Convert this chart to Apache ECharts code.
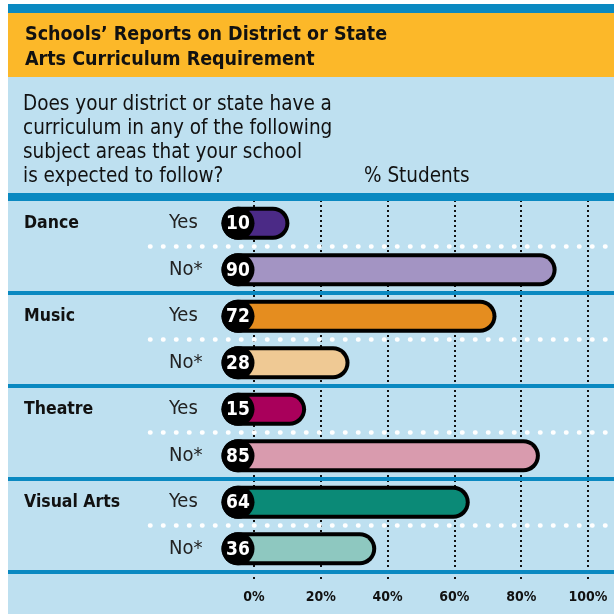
<!DOCTYPE html>
<html>
<head>
<meta charset="utf-8">
<script src="https://cdn.jsdelivr.net/npm/echarts@6/dist/echarts.min.js"></script>
<style>
  html, body { margin: 0; padding: 0; background: #fff; }
  #chart { width: 614px; height: 614px; }
</style>
</head>
<body>
<div id="chart"></div>
<script>
// rows top to bottom
const rowLabels = ['Yes', 'No*', 'Yes', 'No*', 'Yes', 'No*', 'Yes', 'No*']
const groupLabels = ['Dance', '', 'Music', '', 'Theatre', '', 'Visual Arts', '']
const percentStudents = [10, 90, 72, 28, 15, 85, 64, 36]
const barColors = ['#4b2a86', '#a394c3', '#e58d1f', '#efc994', '#a9005b', '#d99bae', '#0b8a77', '#8ec8c0']
const xTicks = [0, 20, 40, 60, 80, 100]

const FONT = '"DejaVu Sans Condensed", "Liberation Sans Narrow", Roboto, sans-serif'
const chart = echarts.init(document.getElementById('chart'))

const renderBar = (params, api) => {
  const idx = api.value(1)
  const val = api.value(0)
  const start = api.coord([0, idx])
  const end = api.coord([val, idx])
  const cy = start[1]
  const cx = start[0] - 16
  return {
    type: 'group',
    children: [
      {
        type: 'rect',
        shape: { x: cx - 16.5, y: cy - 16.5, width: end[0] + 2 - (cx - 16.5), height: 33, r: 16.5 },
        style: { fill: '#000' }
      },
      {
        type: 'rect',
        shape: { x: cx, y: cy - 12.5, width: end[0] - 2 - cx, height: 25, r: 12.5 },
        style: { fill: barColors[idx] }
      },
      {
        type: 'circle',
        shape: { cx: cx, cy: cy, r: 16.5 },
        style: { fill: '#000' }
      },
      {
        type: 'text',
        x: cx, y: cy + 1,
        style: {
          text: String(val), fill: '#fff', font: 'bold 19px ' + FONT,
          align: 'center', verticalAlign: 'middle'
        }
      }
    ]
  }
}

chart.setOption({
  backgroundColor: '#fff',
  animation: false,
  graphic: [
    { type: 'rect', z: -10, shape: { x: 8, y: 4, width: 606, height: 610 }, style: { fill: '#bee0f0' } },
    { type: 'rect', z: -9, shape: { x: 8, y: 4, width: 606, height: 9 }, style: { fill: '#0a89c1' } },
    { type: 'rect', z: -9, shape: { x: 8, y: 13, width: 606, height: 64 }, style: { fill: '#fcb829' } },
    { type: 'rect', z: -9, shape: { x: 8, y: 193, width: 606, height: 5 }, style: { fill: '#0a89c1' } }
  ],
  title: [
    {
      text: 'Schools’ Reports on District or State\nArts Curriculum Requirement',
      left: 25, top: 22, padding: 0,
      textStyle: { fontFamily: FONT, fontWeight: 'bold', fontSize: 19.5, lineHeight: 25, color: '#111' }
    },
    {
      text: 'Does your district or state have a\ncurriculum in any of the following\nsubject areas that your school\nis expected to follow?',
      left: 23, top: 93, padding: 0,
      textStyle: { fontFamily: FONT, fontWeight: 'normal', fontSize: 20.5, lineHeight: 24, color: '#111' }
    },
    {
      text: '% Students',
      left: 364, top: 165, padding: 0,
      textStyle: { fontFamily: FONT, fontWeight: 'normal', fontSize: 20.5, lineHeight: 24, color: '#111' }
    }
  ],
  grid: [
    { left: 254, right: 26, top: 200, bottom: 42 },
    { left: 150, right: 0, top: 246.5, bottom: 88.5 },
    { left: 8, right: 0, top: 199, bottom: 42 }
  ],
  xAxis: [
    {
      gridIndex: 0, type: 'value', min: 0, max: 100, interval: 20,
      axisLine: { show: false },
      axisTick: { show: true, length: 9, lineStyle: { color: '#111', width: 2, type: [2, 3] } },
      splitLine: { show: true, lineStyle: { color: '#111', width: 2, type: [2, 3] } },
      axisLabel: {
        margin: 18, color: '#111', fontFamily: FONT, fontWeight: 'bold', fontSize: 14,
        customValues: xTicks, formatter: '{value}%'
      }
    },
    { gridIndex: 1, type: 'value', show: false, min: 0, max: 1 },
    { gridIndex: 2, type: 'value', show: false, min: 0, max: 1 }
  ],
  yAxis: [
    {
      gridIndex: 0, type: 'category', inverse: true, data: rowLabels,
      axisLine: { show: false }, axisTick: { show: false }, splitLine: { show: false },
      axisLabel: { align: 'left', margin: 85, color: '#222', fontFamily: FONT, fontSize: 20 }
    },
    {
      gridIndex: 0, type: 'category', inverse: true, data: groupLabels, position: 'left',
      axisLine: { show: false }, axisTick: { show: false }, splitLine: { show: false },
      axisLabel: { align: 'left', margin: 230, color: '#111', fontFamily: FONT, fontWeight: 'bold', fontSize: 17.5 }
    },
    {
      gridIndex: 1, type: 'value', min: 0, max: 3, interval: 1, z: 1,
      axisLine: { show: false }, axisTick: { show: false }, axisLabel: { show: false },
      splitLine: { show: true, lineStyle: { color: '#fff', width: 4.5, type: [0.5, 12.5], cap: 'round' } }
    },
    {
      gridIndex: 2, type: 'value', min: 0, max: 8, interval: 2, z: 3,
      axisLine: { show: false }, axisTick: { show: false }, axisLabel: { show: false },
      splitLine: { show: true, lineStyle: { color: '#0a89c1', width: 4 } }
    }
  ],
  series: [
    {
      type: 'custom',
      xAxisIndex: 0, yAxisIndex: 0, z: 5,
      renderItem: renderBar,
      data: percentStudents.map((v, i) => [v, i])
    }
  ]
})
</script>
</body>
</html>
